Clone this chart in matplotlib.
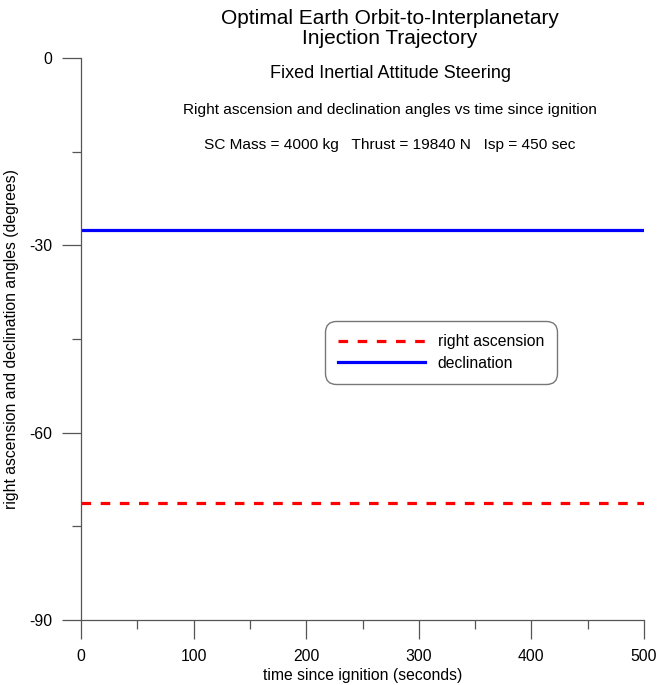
import numpy as np
import matplotlib
matplotlib.use("Agg")
import matplotlib.pyplot as plt
from matplotlib.ticker import MultipleLocator

plt.rcParams['font.family'] = ['Liberation Sans', 'DejaVu Sans']
plt.rcParams['axes.unicode_minus'] = False

# --- data ---
time_sec = [0, 100, 200, 300, 400, 500]
right_ascension = [-71.3, -71.3, -71.3, -71.3, -71.3, -71.3]
declination = [-27.5, -27.5, -27.5, -27.5, -27.5, -27.5]

title_lines = ["Optimal Earth Orbit-to-Interplanetary", "Injection Trajectory"]
subtitle = "Fixed Inertial Attitude Steering"
subtitle2 = "Right ascension and declination angles vs time since ignition"
params_text = "SC Mass = 4000 kg   Thrust = 19840 N   Isp = 450 sec"

fs = 11.3

fig = plt.figure(figsize=(6.58, 6.85), dpi=100)
ax = fig.add_axes([81 / 658, 65 / 685, 563 / 658, 562 / 685])

ax.plot(time_sec, right_ascension, color='#ff0000', lw=2.3,
        dashes=(3, 3), label='right ascension')
ax.plot(time_sec, declination, color='#0000ff', lw=2.3, label='declination')

ax.set_xlim(0, 500)
ax.set_ylim(-90, 0)
ax.xaxis.set_major_locator(MultipleLocator(100))
ax.xaxis.set_minor_locator(MultipleLocator(50))
ax.yaxis.set_major_locator(MultipleLocator(30))
ax.yaxis.set_minor_locator(MultipleLocator(15))
ax.tick_params(which='major', length=13.7, width=0.9, direction='out',
               labelsize=fs, pad=7, color='#555555')
ax.tick_params(which='minor', length=6.5, width=0.9, direction='out', color='#555555')
ax.spines['top'].set_visible(False)
ax.spines['right'].set_visible(False)
for s in ('left', 'bottom'):
    ax.spines[s].set_color('#555555')
    ax.spines[s].set_linewidth(0.9)

ax.set_xlabel("time since ignition (seconds)", fontsize=fs, labelpad=3)
ax.set_ylabel("right ascension and declination angles (degrees)", fontsize=fs, labelpad=7)

leg = ax.legend(loc='upper left', bbox_to_anchor=((325 - 81) / 563, (620 - 321) / 562),
                borderaxespad=0, fontsize=fs, handlelength=5.5, handletextpad=0.83,
                borderpad=0.85, labelspacing=0.4, fancybox=True, framealpha=1)
frame = leg.get_frame()
frame.set_boxstyle('round,pad=0,rounding_size=0.7')
frame.set_edgecolor('#777777')
frame.set_linewidth(1.0)

xc = 390 / 658
fig.text(xc, 1 - 18 / 685, title_lines[0], ha='center', va='center', fontsize=15)
fig.text(xc, 1 - 39 / 685, title_lines[1], ha='center', va='center', fontsize=15)
fig.text(xc, 1 - 73 / 685, subtitle, ha='center', va='center', fontsize=13)
fig.text(xc, 1 - 110 / 685, subtitle2, ha='center', va='center', fontsize=11.1)
fig.text(xc, 1 - 145 / 685, params_text, ha='center', va='center', fontsize=11.1)

fig.savefig("out.png", dpi=100)
